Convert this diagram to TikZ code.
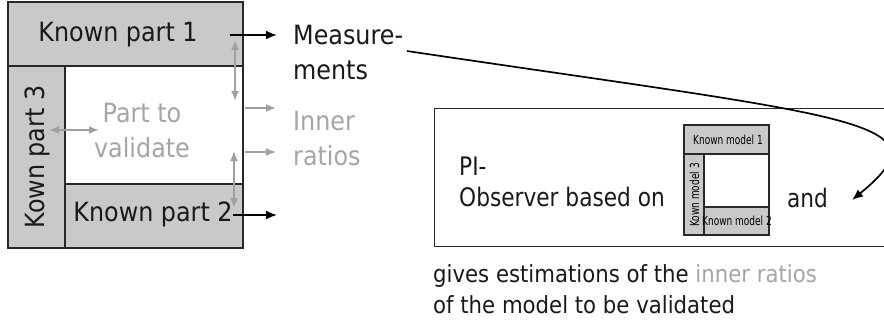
\documentclass[tikz,border=0pt]{standalone}
\usepackage{fontspec}
\setmainfont[FakeStretch=0.9]{DejaVu Sans}
\newfontfamily\midcond[FakeStretch=0.85]{DejaVu Sans}
\newfontfamily\tinycond[FakeStretch=0.72]{DejaVu Sans}
\usetikzlibrary{arrows.meta}
\definecolor{band}{RGB}{200,201,203}
\definecolor{frame}{RGB}{40,40,40}
\definecolor{soft}{RGB}{160,160,160}
\definecolor{softtext}{RGB}{165,165,165}
\begin{document}
\begin{tikzpicture}[x=1pt,y=-1pt,
  bandbox/.style={draw=frame, line width=1.5pt, fill=band, inner sep=0pt, outer sep=0pt, anchor=north west},
  whitebox/.style={draw=frame, line width=1.5pt, fill=white, inner sep=0pt, outer sep=0pt, anchor=north west},
  smallband/.style={bandbox, line width=1.2pt},
  smallwhite/.style={whitebox, line width=1.2pt},
  biglabel/.style={font=\fontsize{26.5}{35}\selectfont, text=black!90, inner sep=0pt},
  softlabel/.style={biglabel, text=softtext},
  midlabel/.style={font=\midcond\fontsize{25.5}{31}\selectfont, text=black!90, inner sep=0pt},
  lowlabel/.style={font=\fontsize{23.6}{31}\selectfont, text=black!90, inner sep=0pt},
  tinylabel/.style={font=\tinycond\fontsize{12.5}{14}\selectfont, text=black, inner sep=0pt},
  blackarrow/.style={draw=black, line width=1.8pt, -{Latex[length=11pt,width=9pt]}},
  softarrow/.style={draw=soft, line width=1.8pt, -{Latex[length=10pt,width=8pt]}},
  softdouble/.style={draw=soft, line width=1.8pt, {Latex[length=10pt,width=8pt]}-{Latex[length=10pt,width=8pt]}}
]
\clip (0,0) rectangle (884,327);
\fill[white] (0,0) rectangle (884,327);

% left model
\node[whitebox, minimum width=178pt, minimum height=118pt] (inner) at (65,66) {};
\node[bandbox, minimum width=235pt, minimum height=64pt] (kp1) at (8,2) {};
\node[bandbox, minimum width=57pt, minimum height=182pt] (kp3) at (8,66) {};
\node[bandbox, minimum width=178pt, minimum height=64pt] (kp2) at (65,184) {};

\node[biglabel] (kp1t) at (118,35) {Known part 1};
\node[biglabel, rotate=90] (kp3t) at (37,157) {Kown part 3};
\node[biglabel] (kp2t) at (153,214) {Known part 2};
\node[softlabel, align=center] (valt) at (142,131) {Part to\\validate};

\node[biglabel, anchor=west, align=left] (meas) at (293,53) {Measure-\\ments};
\node[softlabel, anchor=west, align=left] (ratios) at (293,139) {Inner\\ratios};

% arrows of left model
\coordinate (m1s) at (230,35);  \coordinate (m1e) at (277,35);
\coordinate (m2s) at (233,215); \coordinate (m2e) at (277,215);
\coordinate (r1s) at (245,108); \coordinate (r1e) at (276,108);
\coordinate (r2s) at (245,152); \coordinate (r2e) at (276,152);
\coordinate (v1a) at (235,40);  \coordinate (v1b) at (235,101);
\coordinate (v2a) at (234,151); \coordinate (v2b) at (234,208);
\coordinate (h1a) at (49,130);  \coordinate (h1b) at (99,130);

\draw[blackarrow] (m1s) -- (m1e);
\draw[blackarrow] (m2s) -- (m2e);
\draw[softarrow] (r1s) -- (r1e);
\draw[softarrow] (r2s) -- (r2e);
\draw[softdouble] (v1a) -- (v1b);
\draw[softdouble] (v2a) -- (v2b);
\draw[softdouble] (h1a) -- (h1b);

% right box
\node[draw=frame, line width=1.3pt, inner sep=0pt, anchor=north west, minimum width=470pt, minimum height=138pt] (obs) at (434,108) {};
\node[midlabel, anchor=west, align=left] (pit) at (459,182) {PI-\\Observer based on};
\node[midlabel, anchor=west] (andt) at (787,198) {and};

% small model
\node[smallwhite, minimum width=65pt, minimum height=53pt] (sin) at (704,154) {};
\node[smallband, minimum width=85pt, minimum height=29pt] (km1) at (684,125) {};
\node[smallband, minimum width=20pt, minimum height=81pt] (km3) at (684,154) {};
\node[smallband, minimum width=65pt, minimum height=28pt] (km2) at (704,207) {};
\node[tinylabel] (km1t) at (728,140) {Known model 1};
\node[tinylabel, rotate=90] (km3t) at (694.5,195) {Kown model 3};
\node[tinylabel] (km2t) at (737,221) {Known model 2};

% bottom text
\node[lowlabel, anchor=west, align=left] (give) at (433,289) {gives estimations of the \textcolor{softtext}{inner ratios}\\of the model to be validated};

% curved arrow
\coordinate (cs) at (407,51);
\coordinate (ce) at (852,200);
\draw[blackarrow, line width=1.7pt] (cs) .. controls (857,118) and (950,120) .. (ce);
\end{tikzpicture}
\end{document}
